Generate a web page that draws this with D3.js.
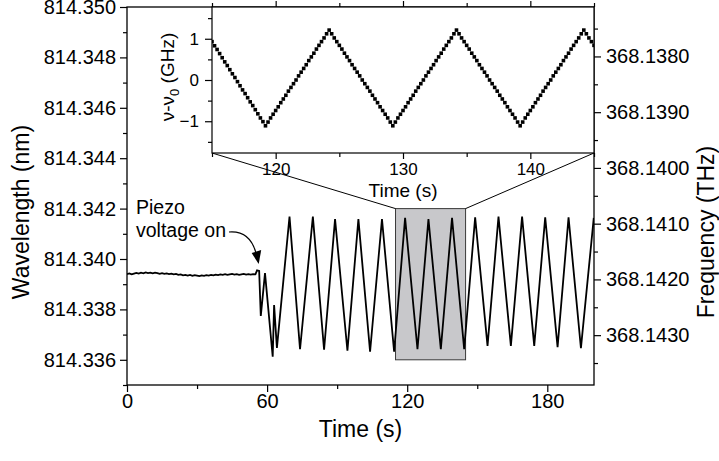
<!DOCTYPE html>
<html><head><meta charset="utf-8">
<script src="https://cdn.jsdelivr.net/npm/d3@7"></script>
<style>
body{margin:0;background:#fff}
svg text{font-family:"Liberation Sans",Arial,Helvetica,sans-serif;fill:#000}
</style>
</head><body>
<svg id="chart" width="719" height="461"></svg>
<script>
// ---------------- data ----------------
// free-running laser before the piezo is switched on (time s, wavelength nm)
const flatTimes = [0,1,2,3,4,5,6,7,8,9,10,11,12,13,14,15,16,17,18,19,20,21,22,23,24,25,26,27,28,29,30,31,32,33,34,35,36,37,38,39,40,41,42,43,44,45,46,47,48,49,50,51,52,53,54,55];
const flatWavelength = [814.33940,814.33943,814.33939,814.33942,814.33945,814.33942,814.33946,814.33943,814.33947,814.33944,
  814.33946,814.33943,814.33946,814.33944,814.33941,814.33944,814.33941,814.33943,814.33940,814.33942,
  814.33939,814.33941,814.33937,814.33939,814.33935,814.33937,814.33934,814.33937,814.33933,814.33936,
  814.33934,814.33932,814.33935,814.33933,814.33936,814.33934,814.33937,814.33935,814.33938,814.33936,
  814.33939,814.33937,814.33940,814.33937,814.33939,814.33941,814.33938,814.33940,814.33937,814.33939,
  814.33941,814.33938,814.33940,814.33938,814.33940,814.33939];
// scanned laser after the piezo voltage is switched on (turning points)
const scanTimes = [55.7,56.6,57.3,59.1,62.4,63.0,64.2,69.6,74.1,79.6,84.4,89.1,94.4,99.1,104.1,109.2,114.4,119.1,124.4,129.1,134.4,139.2,144.4,149.1,154.4,159.1,164.4,169.2,174.4,179.1,184.4,189.1,194.4,199.9];
const scanWavelength = [814.33955,814.33953,814.33774,814.33944,814.33612,814.33817,814.33647,814.34168,814.33642,814.34168,
  814.33640,814.34158,814.33636,814.34158,814.33632,814.34158,814.33632,814.34163,814.33642,814.34158,
  814.33642,814.34163,814.33642,814.34165,814.33655,814.34168,814.33655,814.34168,814.33655,814.34165,
  814.33650,814.34165,814.33646,814.34163];
// inset: detuning nu - nu0 (GHz), sampled every 0.2 s from 115 s
const insetStart = 115, insetStep = 0.2;
const insetDetuning = [
  0.93,0.83,0.74,0.64,0.54,0.44,0.35,0.25,0.15,0.06,-0.04,-0.14,-0.24,-0.33,-0.43,-0.53,-0.62,-0.72,-0.82,-0.92,-1.01,-1.11,
  -1.02,-0.92,-0.83,-0.74,-0.65,-0.55,-0.46,-0.37,-0.27,-0.18,-0.09,0.00,0.10,0.19,0.28,0.37,0.47,0.56,0.65,0.75,0.84,0.93,1.02,1.12,1.21,
  1.12,1.02,0.93,0.84,0.75,0.65,0.56,0.47,0.37,0.28,0.19,0.10,0.00,-0.09,-0.18,-0.27,-0.37,-0.46,-0.55,-0.65,-0.74,-0.83,-0.92,-1.02,-1.11,
  -1.02,-0.92,-0.83,-0.74,-0.65,-0.55,-0.46,-0.37,-0.27,-0.18,-0.09,0.00,0.10,0.19,0.28,0.37,0.47,0.56,0.65,0.75,0.84,0.93,1.02,1.12,1.21,
  1.12,1.02,0.93,0.84,0.75,0.65,0.56,0.47,0.37,0.28,0.19,0.10,0.00,-0.09,-0.18,-0.27,-0.37,-0.46,-0.55,-0.65,-0.74,-0.83,-0.92,-1.02,-1.11,
  -1.02,-0.92,-0.83,-0.74,-0.65,-0.55,-0.46,-0.37,-0.27,-0.18,-0.09,0.00,0.10,0.19,0.28,0.37,0.47,0.56,0.65,0.75,0.84,0.93,1.02,1.12,1.21,
  1.12,1.02,0.93,0.84];
// zoom window shown in the inset
const zoomTimes = [115, 145];
const zoomWavelength = [814.336, 814.342];
// ticks
const timeTicks = [0,60,120,180];
const timeMinor = [30,90,150];
const wlTicks = [814.336,814.338,814.340,814.342,814.344,814.346,814.348,814.350];
const wlMinor = [814.335,814.337,814.339,814.341,814.343,814.345,814.347,814.349];
const freqTicks = [368.1380,368.1390,368.1400,368.1410,368.1420,368.1430];
const freqMinor = [368.1375,368.1385,368.1395,368.1405,368.1415,368.1425,368.1435];
const insetTimeTicks = [120,130,140];
const insetTimeMinor = [115,125,135,145];
const insetDetTicks = [-1,0,1];
const insetDetMinor = [-1.5,-0.5,0.5,1.5];
const C_LIGHT = 299792.458; // nm*THz

// ---------------- layout ----------------
const svg = d3.select("#chart");
const L = 127, R = 594, T = 7, B = 385;
const x = d3.scaleLinear([0, 200], [L, R]);
const y = d3.scaleLinear([814.335, 814.350], [B, T]);
const yF = d3.scaleLinear([C_LIGHT / 814.335, C_LIGHT / 814.350], [B, T]);
const IL = 212, IR = 594, IT = 7, IB = 153;
const ix = d3.scaleLinear([115, 145], [IL, IR]);
const iy = d3.scaleLinear([-1.77, 1.77], [IB, IT]);

function styleAxis(g, fs) {
  g.attr("font-family", null).attr("font-size", null);
  g.select(".domain").remove();
  g.selectAll(".tick line").attr("stroke", "#000").attr("stroke-width", 1.2);
  g.selectAll(".tick text").style("font-size", fs + "px");
}
function addAxis(axisGen, scale, major, minor, fmt, tx, ty, fs, majLen, minLen, pad) {
  const gm = svg.append("g").attr("transform", `translate(${tx},${ty})`)
    .call(axisGen(scale).tickValues(minor).tickSize(minLen).tickFormat(""));
  styleAxis(gm, fs);
  const g = svg.append("g").attr("transform", `translate(${tx},${ty})`)
    .call(axisGen(scale).tickValues(major).tickSize(majLen).tickPadding(pad).tickFormat(fmt));
  styleAxis(g, fs);
  return g;
}

// main axes
addAxis(d3.axisLeft, y, wlTicks, wlMinor, d3.format(".3f"), L, 0, 20, 7, 4, 4);
addAxis(d3.axisBottom, x, timeTicks, timeMinor, d3.format("d"), 0, B, 20, 7, 4, 2);
addAxis(d3.axisRight, yF, freqTicks, freqMinor, d3.format(".4f"), R, 0, 20, 7, 4, 5);

// zoom window rectangle
svg.append("rect")
  .attr("x", x(zoomTimes[0])).attr("y", y(zoomWavelength[1]))
  .attr("width", x(zoomTimes[1]) - x(zoomTimes[0]))
  .attr("height", y(zoomWavelength[0]) - y(zoomWavelength[1]))
  .attr("fill", "#c8c8cb").attr("stroke", "#3a3a3a").attr("stroke-width", 1);

// connector lines
svg.append("line").attr("x1", x(zoomTimes[0])).attr("y1", y(zoomWavelength[1]))
  .attr("x2", ix(zoomTimes[0])).attr("y2", IB).attr("stroke", "#000").attr("stroke-width", 1);
svg.append("line").attr("x1", x(zoomTimes[1])).attr("y1", y(zoomWavelength[1]))
  .attr("x2", ix(zoomTimes[1])).attr("y2", IB).attr("stroke", "#000").attr("stroke-width", 1);

// main trace
svg.append("clipPath").attr("id", "mainclip").append("rect")
  .attr("x", L).attr("y", T).attr("width", R - L).attr("height", B - T);
const mainPts = flatTimes.map((t, i) => [t, flatWavelength[i]])
  .concat(scanTimes.map((t, i) => [t, scanWavelength[i]]));
svg.append("path").datum(mainPts)
  .attr("clip-path", "url(#mainclip)")
  .attr("d", d3.line().x(d => x(d[0])).y(d => y(d[1])))
  .attr("fill", "none").attr("stroke", "#000").attr("stroke-width", 1.8)
  .attr("stroke-linejoin", "miter");

// main frame
svg.append("rect").attr("x", L).attr("y", T).attr("width", R - L).attr("height", B - T)
  .attr("fill", "none").attr("stroke", "#000").attr("stroke-width", 1.3);

// annotation
svg.append("text").attr("x", 136).attr("y", 214).style("font-size", "19.5px").text("Piezo");
svg.append("text").attr("x", 136).attr("y", 237).style("font-size", "19.5px").text("voltage on");
const arrowTip = [x(56.4), y(814.3398)];
const ap = d3.path();
ap.moveTo(229, 232);
ap.bezierCurveTo(241, 231, 251, 236, arrowTip[0] - 3, arrowTip[1] - 12);
svg.append("path").attr("d", ap.toString()).attr("fill", "none").attr("stroke", "#000").attr("stroke-width", 1.2);
svg.append("path")
  .attr("d", `M${arrowTip[0]},${arrowTip[1]} L${arrowTip[0]-7},${arrowTip[1]-11} L${arrowTip[0]+2.5},${arrowTip[1]-14} Z`)
  .attr("fill", "#000");

// ---------------- inset ----------------
svg.append("rect").attr("x", IL).attr("y", IT).attr("width", IR - IL).attr("height", IB - IT)
  .attr("fill", "#fff");
addAxis(d3.axisLeft, iy, insetDetTicks, insetDetMinor, d3.format("d"), IL, 0, 17, 7, 4, 6);
addAxis(d3.axisBottom, ix, insetTimeTicks, insetTimeMinor, d3.format("d"), 0, IB, 17, 6, 4, 4);
const gt = svg.append("g").attr("transform", `translate(0,${IT})`)
  .call(d3.axisTop(ix).tickValues(insetTimeTicks).tickSize(6).tickFormat(""));
styleAxis(gt, 17);
const gt2 = svg.append("g").attr("transform", `translate(0,${IT})`)
  .call(d3.axisTop(ix).tickValues(insetTimeMinor).tickSize(4).tickFormat(""));
styleAxis(gt2, 17);

svg.append("clipPath").attr("id", "insetclip").append("rect")
  .attr("x", IL).attr("y", IT).attr("width", IR - IL).attr("height", IB - IT);
const insetPts = insetDetuning.map((v, i) => [insetStart + i * insetStep, v]);
const ms = 3.6;
svg.append("g").attr("clip-path", "url(#insetclip)")
  .selectAll("rect").data(insetPts).join("rect")
  .attr("x", d => ix(d[0]) - ms / 2).attr("y", d => iy(d[1]) - ms / 2)
  .attr("width", ms).attr("height", ms).attr("fill", "#000");

svg.append("rect").attr("x", IL).attr("y", IT).attr("width", IR - IL).attr("height", IB - IT)
  .attr("fill", "none").attr("stroke", "#000").attr("stroke-width", 1.2);

// inset titles
svg.append("text").attr("x", (IL + IR) / 2).attr("y", 197).attr("text-anchor", "middle")
  .style("font-size", "19px").text("Time (s)");
const yt = svg.append("text").attr("transform", `translate(174,${(IT + IB) / 2 - 3}) rotate(-90)`)
  .attr("text-anchor", "middle").style("font-size", "19px");
yt.append("tspan").text("ν-ν");
yt.append("tspan").attr("dy", 5).style("font-size", "13px").text("0");
yt.append("tspan").attr("dy", -5).text(" (GHz)");

// main titles
svg.append("text").attr("x", (L + R) / 2).attr("y", 437).attr("text-anchor", "middle")
  .style("font-size", "23px").text("Time (s)");
svg.append("text").attr("transform", "translate(29,212) rotate(-90)").attr("text-anchor", "middle")
  .style("font-size", "23px").text("Wavelength (nm)");
svg.append("text").attr("transform", "translate(714,232) rotate(-90)").attr("text-anchor", "middle")
  .style("font-size", "23px").text("Frequency (THz)");
</script>
</body></html>
